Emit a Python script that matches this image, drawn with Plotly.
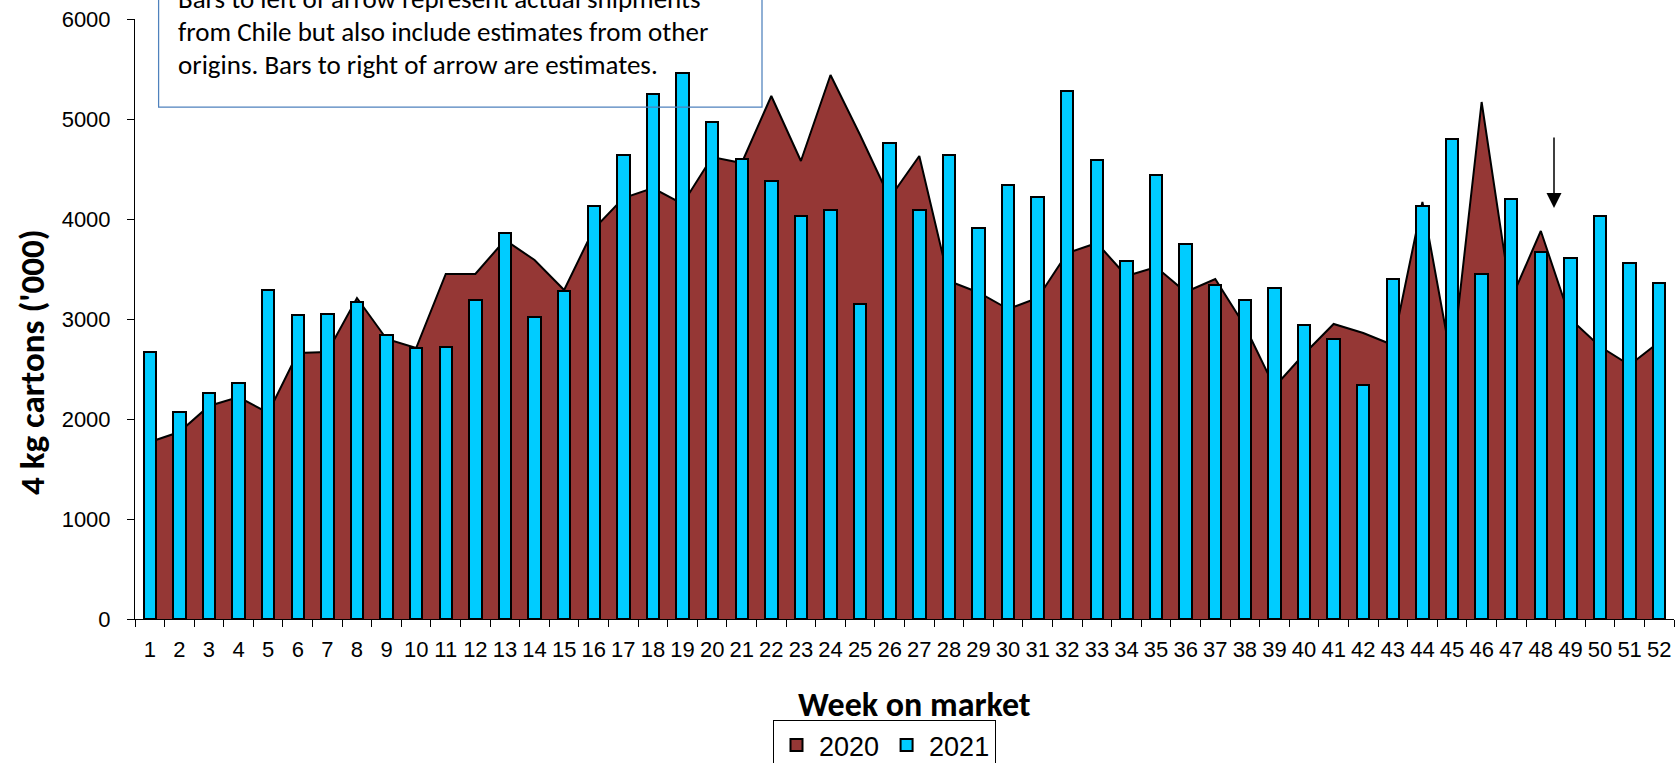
import plotly.graph_objects as go

weeks = [str(i) for i in range(1, 53)]

vol_2020 = [1770, 1870, 2130, 2220, 2060, 2660, 2670, 3210, 2800, 2710,
            3450, 3450, 3790, 3590, 3290, 3900, 4210, 4310, 4150, 4620,
            4560, 5230, 4580, 5440, 4840, 4210, 4630, 3380, 3265, 3100,
            3210, 3660, 3760, 3430, 3520, 3270, 3400, 2930, 2320, 2650,
            2950, 2860, 2740, 4170, 2550, 5170, 3200, 3880, 3000, 2725,
            2540, 2770]

vol_2021 = [2670, 2070, 2260, 2360, 3290, 3040, 3050, 3170, 2840, 2710,
            2720, 3190, 3860, 3020, 3280, 4130, 4640, 5250, 5460, 4970,
            4600, 4380, 4030, 4090, 3150, 4760, 4090, 4640, 3910, 4340,
            4220, 5280, 4590, 3580, 4440, 3750, 3340, 3190, 3310, 2940,
            2800, 2340, 3400, 4130, 4800, 3450, 4200, 3670, 3610, 4030,
            3560, 3360]

y_ticks = [0, 1000, 2000, 3000, 4000, 5000, 6000]

note_lines = ["Bars to left of arrow represent actual shipments",
              "from Chile but also include estimates from other",
              "origins. Bars to right of arrow are estimates."]

CAL = "Carlito, Lato, 'Open Sans', sans-serif"
ARIAL = "'Liberation Sans', Arial, sans-serif"
BROWN = "#953735"
BLUE = "#00CCFF"

fig = go.Figure()
fig.add_trace(go.Scatter(
    x=weeks, y=vol_2020, name="2020", mode="lines", fill="tozeroy",
    fillcolor=BROWN, line=dict(color="black", width=2),
    xaxis="x", yaxis="y", showlegend=False))
# legend proxy giving a square swatch for 2020
fig.add_trace(go.Bar(
    x=[None], y=[None], name="2020", legendrank=1,
    marker=dict(color=BROWN, line=dict(color="black", width=2)),
    xaxis="x", yaxis="y"))
fig.add_trace(go.Bar(
    x=weeks, y=vol_2021, name="2021", width=0.42, legendrank=2,
    marker=dict(color=BLUE, line=dict(color="black", width=2)),
    xaxis="x2", yaxis="y2"))

W, H = 1680, 763
L, R, T, B = 135, 6, 19, 144
pw, ph = W - L - R, H - T - B

def px(xf):
    return (xf - L) / pw

def py(yf):
    return (H - B - yf) / ph

axis_common = dict(type="category", categoryorder="array", categoryarray=weeks,
                   range=[-0.5, 51.5])
fig.update_layout(
    width=W, height=H, plot_bgcolor="white", paper_bgcolor="white",
    margin=dict(l=L, r=R, t=T, b=B, autoexpand=False),
    bargap=0,
    xaxis=dict(**axis_common, showline=True, linecolor="black", linewidth=1,
               ticks="outside", tickson="boundaries", ticklen=7, tickcolor="black",
               tickangle=0, showgrid=False,
               tickfont=dict(family=ARIAL, size=22, color="black"),
               ticklabelstandoff=11),
    xaxis2=dict(**axis_common, overlaying="x", visible=False),
    yaxis=dict(range=[0, 6000], tickvals=y_ticks, showline=True, linecolor="black",
               linewidth=1, ticks="outside", ticklen=7, tickcolor="black",
               showgrid=False, zeroline=False,
               tickfont=dict(family=ARIAL, size=22, color="black"),
               ticklabelstandoff=12),
    yaxis2=dict(range=[0, 6000], overlaying="y", visible=False),
    showlegend=True,
    legend=dict(orientation="h", x=px(773), xanchor="left", y=py(720), yanchor="top",
                bordercolor="black", borderwidth=1, bgcolor="white",
                font=dict(family=ARIAL, size=27, color="black"),
                traceorder="normal", itemwidth=35),
)

# text box outline
fig.add_shape(type="rect", xref="paper", yref="paper",
              x0=px(158.6), x1=px(762), y0=py(107), y1=py(-12),
              line=dict(color="#4F81BD", width=1.25), fillcolor="rgba(0,0,0,0)",
              layer="above")

for line, yc in zip(note_lines, [-1.3, 31.7, 64.7]):
    fig.add_annotation(text=line, xref="paper", yref="paper", x=px(176), y=py(yc),
                       xanchor="left", yanchor="middle", showarrow=False,
                       font=dict(family=CAL, size=27, color="black"))

# arrow
fig.add_annotation(text="", xref="paper", yref="paper", x=px(1554), y=py(208),
                   ax=0, ay=-72, showarrow=True, arrowhead=2, arrowsize=2,
                   arrowwidth=1.5, arrowcolor="black", standoff=0)

# axis titles
fig.add_annotation(text="<b>Week on market</b>", xref="paper", yref="paper",
                   x=px(914), y=py(704.5), xanchor="center", yanchor="middle",
                   showarrow=False, font=dict(family=CAL, size=34, color="black"))
fig.add_annotation(text="<b>4 kg cartons ('000)</b>", xref="paper", yref="paper",
                   x=px(32), y=py(362), xanchor="center", yanchor="middle",
                   textangle=-90, showarrow=False,
                   font=dict(family=CAL, size=35, color="black"))

fig.write_html("out.html", config={"displayModeBar": False},
               post_script="document.body.style.margin='0';document.body.style.overflow='hidden';")
